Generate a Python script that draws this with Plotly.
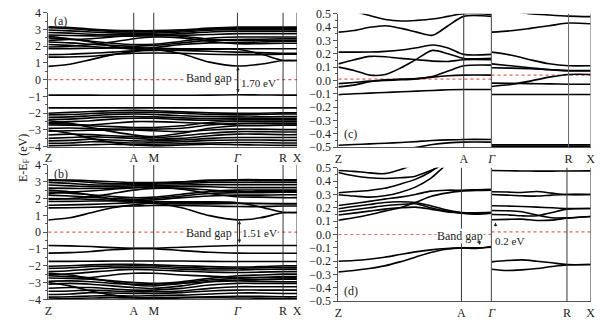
import plotly.graph_objects as go

# ---------------- k-paths ----------------
ab_ticks = [0.0, 0.867, 1.07, 1.92, 2.383, 2.525]
ab_labels = ["Z", "A", "M", "<i>Γ</i>", "R", "X"]
ab_k = [0.0, 0.217, 0.433, 0.65, 0.867, 1.07, 1.353, 1.637, 1.92, 2.15, 2.383, 2.525]

c_left_k = [0.0, 0.125, 0.25, 0.375, 0.5, 0.625, 0.75, 0.875, 1.0, 1.222]
c_right_k = [0.0, 0.25, 0.5, 0.75, 1.0, 1.286]
d_left_k = [0.0, 0.125, 0.25, 0.375, 0.5, 0.625, 0.75, 0.875, 1.0, 1.12, 1.245]
d_right_k = [0.0, 0.2, 0.4, 0.6, 0.8, 1.0, 1.313]

# ---------------- panel (a) bands (eV) ----------------
a_conduction = [
    [0.80, 0.92, 1.20, 1.50, 1.68, 1.80, 1.55, 1.05, 0.82, 0.92, 1.15, 1.15],
    [1.35, 1.36, 1.40, 1.50, 1.58, 1.60, 1.58, 1.52, 1.50, 1.50, 1.52, 1.52],
    [1.50, 1.52, 1.58, 1.65, 1.72, 1.75, 1.78, 1.82, 1.82, 1.55, 1.15, 1.15],
    [1.85, 1.86, 1.88, 1.90, 1.92, 1.88, 1.85, 1.85, 1.85, 1.85, 1.85, 1.85],
    [2.10, 2.05, 1.98, 1.90, 1.85, 1.92, 2.10, 2.20, 2.22, 2.25, 2.30, 2.30],
    [2.25, 2.20, 2.12, 2.05, 2.00, 2.05, 2.20, 2.35, 2.40, 2.42, 2.45, 2.45],
    [2.50, 2.42, 2.30, 2.18, 2.10, 2.12, 2.30, 2.48, 2.55, 2.55, 2.55, 2.55],
    [2.67, 2.64, 2.62, 2.60, 2.60, 2.62, 2.65, 2.70, 2.75, 2.75, 2.75, 2.75],
    [2.82, 2.78, 2.72, 2.68, 2.68, 2.68, 2.75, 2.85, 2.90, 2.90, 2.90, 2.90],
    [2.97, 2.92, 2.85, 2.80, 2.78, 2.78, 2.85, 2.95, 3.00, 3.00, 3.00, 3.00],
    [3.10, 3.05, 2.95, 2.88, 2.86, 2.86, 2.92, 3.02, 3.08, 3.08, 3.08, 3.08],
    [3.16, 3.12, 3.02, 2.95, 2.93, 2.93, 2.98, 3.08, 3.14, 3.14, 3.14, 3.14],
    [2.35, 2.40, 2.45, 2.55, 2.65, 2.70, 2.60, 2.42, 2.35, 2.35, 2.35, 2.35],
    [2.60, 2.45, 2.25, 2.00, 1.82, 1.78, 1.75, 1.70, 1.65, 1.62, 1.58, 1.58],
    [1.95, 2.00, 2.10, 2.25, 2.45, 2.55, 2.50, 2.30, 2.15, 2.15, 2.18, 2.18],
]
a_valence = [
    [-0.92, -0.92, -0.92, -0.93, -0.93, -0.93, -0.93, -0.92, -0.90, -0.91, -0.92, -0.92],
    [-1.68, -1.68, -1.68, -1.68, -1.68, -1.68, -1.68, -1.68, -1.68, -1.68, -1.68, -1.68],
    [-2.00, -1.95, -1.90, -1.85, -1.83, -1.85, -1.92, -1.98, -2.00, -2.00, -1.98, -1.98],
    [-2.10, -2.08, -2.02, -1.97, -1.95, -1.95, -2.00, -2.08, -2.10, -2.08, -2.05, -2.05],
    [-2.25, -2.22, -2.15, -2.08, -2.05, -2.08, -2.15, -2.20, -2.22, -2.22, -2.20, -2.20],
    [-2.38, -2.35, -2.28, -2.22, -2.20, -2.22, -2.28, -2.32, -2.32, -2.32, -2.30, -2.30],
    [-2.55, -2.50, -2.45, -2.35, -2.30, -2.30, -2.38, -2.42, -2.40, -2.40, -2.40, -2.40],
    [-2.70, -2.72, -2.75, -2.80, -2.85, -2.85, -2.75, -2.55, -2.48, -2.50, -2.50, -2.50],
    [-2.90, -2.88, -2.92, -2.95, -2.95, -2.95, -2.90, -2.70, -2.60, -2.60, -2.60, -2.60],
    [-3.08, -3.05, -3.02, -3.00, -3.00, -3.05, -3.10, -3.00, -2.95, -2.95, -2.98, -2.98],
    [-3.30, -3.25, -3.28, -3.35, -3.40, -3.45, -3.35, -3.20, -3.10, -3.10, -3.12, -3.12],
    [-3.50, -3.45, -3.40, -3.45, -3.50, -3.55, -3.50, -3.35, -3.25, -3.25, -3.28, -3.28],
    [-3.65, -3.62, -3.55, -3.60, -3.65, -3.65, -3.60, -3.50, -3.45, -3.45, -3.45, -3.45],
    [-3.80, -3.78, -3.70, -3.72, -3.78, -3.75, -3.70, -3.62, -3.60, -3.60, -3.62, -3.62],
    [-3.95, -3.92, -3.88, -3.85, -3.88, -3.85, -3.82, -3.78, -3.75, -3.75, -3.78, -3.78],
    [-2.45, -2.60, -2.85, -3.10, -3.30, -3.40, -3.20, -2.90, -2.75, -2.75, -2.72, -2.72],
    [-3.00, -3.20, -3.50, -3.75, -3.90, -3.95, -3.90, -3.85, -3.88, -3.90, -3.92, -3.92],
    [-2.62, -2.65, -2.70, -2.60, -2.50, -2.50, -2.55, -2.62, -2.70, -2.72, -2.70, -2.70],
]

# ---------------- panel (b) bands (eV) ----------------
b_conduction = [
    [0.72, 0.85, 1.15, 1.45, 1.62, 1.72, 1.45, 0.98, 0.73, 0.85, 1.15, 1.15],
    [1.44, 1.45, 1.48, 1.52, 1.55, 1.58, 1.58, 1.55, 1.52, 1.52, 1.55, 1.55],
    [1.60, 1.62, 1.65, 1.70, 1.75, 1.78, 1.80, 1.80, 1.75, 1.50, 1.18, 1.18],
    [1.82, 1.83, 1.85, 1.85, 1.85, 1.82, 1.78, 1.75, 1.72, 1.70, 1.70, 1.70],
    [2.00, 1.98, 1.95, 1.90, 1.88, 1.92, 2.05, 2.15, 2.20, 2.20, 2.22, 2.22],
    [2.20, 2.15, 2.08, 2.00, 1.95, 2.00, 2.15, 2.30, 2.35, 2.35, 2.38, 2.38],
    [2.39, 2.32, 2.22, 2.12, 2.05, 2.08, 2.25, 2.42, 2.50, 2.50, 2.50, 2.50],
    [2.62, 2.60, 2.60, 2.62, 2.65, 2.68, 2.70, 2.70, 2.65, 2.65, 2.65, 2.65],
    [2.80, 2.75, 2.72, 2.72, 2.75, 2.78, 2.80, 2.82, 2.82, 2.82, 2.82, 2.82],
    [2.96, 2.90, 2.82, 2.80, 2.82, 2.85, 2.90, 2.95, 2.96, 2.96, 2.96, 2.96],
    [3.08, 3.05, 2.95, 2.88, 2.88, 2.90, 2.98, 3.05, 3.08, 3.06, 3.06, 3.06],
    [2.30, 2.38, 2.45, 2.55, 2.65, 2.70, 2.55, 2.30, 2.10, 2.08, 2.05, 2.05],
    [2.50, 2.40, 2.20, 1.95, 1.78, 1.70, 1.68, 1.68, 1.70, 1.70, 1.68, 1.68],
    [1.95, 2.00, 2.10, 2.30, 2.50, 2.60, 2.60, 2.50, 2.40, 2.40, 2.40, 2.40],
    [3.12, 3.10, 3.05, 3.00, 2.95, 2.95, 3.00, 3.10, 3.12, 3.12, 3.12, 3.12],
]
b_valence = [
    [-0.80, -0.82, -0.86, -0.92, -0.96, -0.96, -0.90, -0.84, -0.80, -0.80, -0.80, -0.80],
    [-1.25, -1.22, -1.15, -1.05, -0.98, -0.98, -1.10, -1.20, -1.25, -1.26, -1.26, -1.26],
    [-1.74, -1.74, -1.73, -1.72, -1.72, -1.72, -1.72, -1.74, -1.75, -1.75, -1.75, -1.75],
    [-2.03, -2.00, -1.95, -1.92, -1.92, -1.95, -2.00, -2.05, -2.08, -2.05, -2.00, -2.00],
    [-2.16, -2.12, -2.05, -2.02, -2.00, -2.02, -2.10, -2.15, -2.15, -2.12, -2.10, -2.10],
    [-2.35, -2.30, -2.20, -2.12, -2.10, -2.12, -2.20, -2.25, -2.25, -2.22, -2.20, -2.20],
    [-2.54, -2.48, -2.38, -2.28, -2.22, -2.25, -2.32, -2.38, -2.40, -2.38, -2.35, -2.35],
    [-2.73, -2.75, -2.80, -2.90, -3.00, -3.05, -2.95, -2.75, -2.60, -2.55, -2.50, -2.50],
    [-2.92, -2.90, -2.95, -3.05, -3.10, -3.10, -3.00, -2.85, -2.75, -2.70, -2.65, -2.65],
    [-3.10, -3.05, -3.10, -3.20, -3.30, -3.35, -3.20, -2.95, -2.85, -2.82, -2.80, -2.80],
    [-3.34, -3.30, -3.30, -3.38, -3.45, -3.45, -3.35, -3.15, -3.05, -3.05, -3.05, -3.05],
    [-3.52, -3.50, -3.45, -3.50, -3.55, -3.55, -3.50, -3.35, -3.25, -3.25, -3.25, -3.25],
    [-3.71, -3.68, -3.60, -3.62, -3.65, -3.65, -3.60, -3.50, -3.45, -3.45, -3.45, -3.45],
    [-3.87, -3.85, -3.80, -3.78, -3.80, -3.78, -3.75, -3.68, -3.62, -3.62, -3.65, -3.65],
    [-3.98, -3.95, -3.92, -3.90, -3.92, -3.90, -3.88, -3.85, -3.82, -3.82, -3.85, -3.85],
    [-2.60, -2.65, -2.70, -2.55, -2.45, -2.45, -2.55, -2.62, -2.70, -2.70, -2.72, -2.72],
    [-3.00, -3.20, -3.50, -3.75, -3.90, -3.95, -3.92, -3.90, -3.92, -3.93, -3.95, -3.95],
    [-2.45, -2.55, -2.75, -2.95, -3.15, -3.20, -3.05, -2.95, -2.90, -2.92, -2.95, -2.95],
]

# ---------------- panel (c) bands near E_F (eV) ----------------
c_left = [
    [0.56, 0.52, 0.486, 0.457, 0.445, 0.45, 0.46, 0.48, 0.50, 0.495],
    [0.362, 0.374, 0.398, 0.41, 0.39, 0.362, 0.338, 0.41, 0.48, 0.48],
    [0.212, 0.212, 0.213, 0.218, 0.228, 0.245, 0.265, 0.243, 0.195, 0.195],
    [0.124, 0.155, 0.18, 0.178, 0.165, 0.155, 0.145, 0.142, 0.155, 0.155],
    [0.10, 0.075, 0.04, 0.045, 0.095, 0.16, 0.225, 0.20, 0.165, 0.165],
    [-0.048, -0.035, -0.01, 0.005, 0.01, 0.015, 0.03, 0.07, 0.11, 0.115],
    [-0.024, -0.015, -0.005, 0.0, 0.005, 0.012, 0.025, 0.035, 0.04, 0.04],
    [-0.107, -0.10, -0.095, -0.09, -0.085, -0.08, -0.075, -0.07, -0.068, -0.068],
    [-0.485, -0.48, -0.475, -0.47, -0.465, -0.458, -0.45, -0.445, -0.442, -0.442],
    [-0.55, -0.54, -0.53, -0.52, -0.515, -0.50, -0.48, -0.468, -0.462, -0.462],
]
c_right = [
    [0.53, 0.52, 0.50, 0.49, 0.482, 0.478],
    [0.362, 0.372, 0.39, 0.41, 0.43, 0.425],
    [0.212, 0.19, 0.155, 0.125, 0.11, 0.11],
    [0.124, 0.11, 0.095, 0.08, 0.072, 0.072],
    [0.095, 0.092, 0.088, 0.082, 0.075, 0.075],
    [-0.045, -0.03, -0.005, 0.025, 0.045, 0.045],
    [-0.02, -0.022, -0.024, -0.026, -0.028, -0.028],
    [-0.105, -0.105, -0.105, -0.105, -0.105, -0.105],
    [-0.482, -0.482, -0.482, -0.482, -0.482, -0.482],
    [-0.492, -0.492, -0.492, -0.492, -0.492, -0.492],
]

# ---------------- panel (d) bands near E_F (eV) ----------------
d_left = [
    [0.48, 0.473, 0.462, 0.456, 0.485, 0.53, 0.58, 0.62, 0.65, 0.66, 0.66],
    [0.465, 0.44, 0.425, 0.42, 0.425, 0.437, 0.48, 0.53, 0.58, 0.60, 0.60],
    [0.313, 0.322, 0.33, 0.346, 0.377, 0.413, 0.47, 0.55, 0.60, 0.62, 0.62],
    [0.298, 0.288, 0.28, 0.29, 0.315, 0.355, 0.42, 0.52, 0.58, 0.60, 0.60],
    [0.217, 0.232, 0.248, 0.265, 0.28, 0.30, 0.325, 0.332, 0.332, 0.335, 0.338],
    [0.193, 0.21, 0.225, 0.24, 0.245, 0.24, 0.215, 0.185, 0.165, 0.163, 0.166],
    [0.17, 0.185, 0.20, 0.215, 0.225, 0.23, 0.20, 0.175, 0.162, 0.155, 0.163],
    [0.146, 0.16, 0.175, 0.19, 0.20, 0.205, 0.19, 0.17, 0.16, 0.152, 0.16],
    [0.107, 0.125, 0.148, 0.175, 0.20, 0.24, 0.285, 0.31, 0.325, 0.33, 0.332],
    [-0.20, -0.195, -0.185, -0.17, -0.15, -0.13, -0.115, -0.105, -0.10, -0.105, -0.09],
    [-0.28, -0.27, -0.255, -0.235, -0.205, -0.17, -0.135, -0.11, -0.10, -0.10, -0.095],
]
d_right = [
    [0.48, 0.478, 0.476, 0.475, 0.475, 0.476, 0.477],
    [0.32, 0.318, 0.315, 0.322, 0.31, 0.30, 0.30],
    [0.30, 0.295, 0.29, 0.288, 0.295, 0.30, 0.30],
    [0.215, 0.213, 0.21, 0.205, 0.20, 0.195, 0.195],
    [0.18, 0.178, 0.17, 0.145, 0.125, 0.125, 0.135],
    [0.15, 0.148, 0.14, 0.14, 0.165, 0.19, 0.195],
    [0.11, 0.113, 0.115, 0.105, 0.108, 0.122, 0.135],
    [-0.205, -0.195, -0.19, -0.20, -0.212, -0.225, -0.225],
    [-0.26, -0.27, -0.265, -0.255, -0.24, -0.228, -0.225],
]

# Fermi-level reference lines and gap values
fermi_levels = {"y": 0.0, "y2": 0.0, "y3": 0.01, "y4": 0.04, "y5": 0.0, "y6": 0.02}
gap_a = [0.80, -0.90]   # CBM, VBM (eV)
gap_b = [0.72, -0.79]

SERIF = "Liberation Serif"
fig = go.Figure()


def add_bands(kx, bands, xa, ya):
    for vals in bands:
        fig.add_trace(go.Scatter(
            x=kx, y=vals, mode="lines", xaxis=xa, yaxis=ya,
            line=dict(color="black", width=1.6, shape="spline", smoothing=0.8),
            hoverinfo="skip", showlegend=False))


add_bands(ab_k, a_conduction + a_valence, "x", "y")
add_bands(ab_k, b_conduction + b_valence, "x2", "y2")
add_bands(c_left_k, c_left, "x3", "y3")
add_bands(c_right_k, c_right, "x4", "y4")
add_bands(d_left_k, d_left, "x5", "y5")
add_bands(d_right_k, d_right, "x6", "y6")

AX = "#555555"
tickfont = dict(family=SERIF, size=12, color="#222222")


def yaxis(domain, rng, dtick, minor, fmt, anchor, labels=True):
    return dict(domain=domain, range=rng, anchor=anchor, showline=True,
                linecolor=AX, linewidth=1, showgrid=False, zeroline=False,
                ticks="outside" if labels else "", ticklen=4, tickwidth=1,
                tickcolor=AX, tick0=0, dtick=dtick, tickformat=fmt,
                showticklabels=labels, tickfont=tickfont,
                minor=dict(dtick=minor, ticks="outside" if labels else "",
                           ticklen=2, tickcolor=AX, showgrid=False))


def xaxis(domain, rng, vals, text, anchor):
    return dict(domain=domain, range=rng, anchor=anchor, showline=True,
                linecolor=AX, linewidth=1, showgrid=False, zeroline=False,
                tickmode="array", tickvals=vals, ticktext=text, ticks="",
                tickfont=tickfont)


W, H = 600, 325
px = lambda a, b: [a / W, b / W]
py = lambda top, bot: [1 - bot / H, 1 - top / H]

fig.update_layout(
    width=W, height=H, margin=dict(l=0, r=0, t=0, b=0),
    paper_bgcolor="white", plot_bgcolor="white", showlegend=False,
    xaxis=xaxis(px(45, 297.5), [0, 2.525], ab_ticks, ab_labels, "y"),
    yaxis=yaxis(py(6, 146), [-4, 4], 1, 0.5, "d", "x"),
    xaxis2=xaxis(px(45, 297.5), [0, 2.525], ab_ticks, ab_labels, "y2"),
    yaxis2=yaxis(py(165, 305.5), [-4, 4], 1, 0.5, "d", "x2"),
    xaxis3=xaxis(px(339.5, 495), [0, 1.222], [0, 1.0], ["Z", "A"], "y3"),
    yaxis3=yaxis(py(7, 146.5), [-0.5, 0.5], 0.1, 0.05, ".1f", "x3"),
    xaxis4=xaxis(px(495, 595.5), [0, 1.286], [0, 1.0, 1.286], ["<i>Γ</i>", "R", "X"], "y4"),
    yaxis4=yaxis(py(7, 146.5), [-0.5, 0.5], 0.1, 0.05, ".1f", "x4", labels=False),
    xaxis5=xaxis(px(339.5, 495), [0, 1.245], [0, 1.0], ["Z", "A"], "y5"),
    yaxis5=yaxis(py(168, 307.5), [-0.5, 0.5], 0.1, 0.05, ".1f", "x5"),
    xaxis6=xaxis(px(495, 595.5), [0, 1.313], [0, 1.0, 1.313], ["<i>Γ</i>", "R", "X"], "y6"),
    yaxis6=yaxis(py(168, 307.5), [-0.5, 0.5], 0.1, 0.05, ".1f", "x6", labels=False),
)

shapes = []


def vline(xref, yref, xv, width=1, color="#333333"):
    shapes.append(dict(type="line", xref=xref, yref=yref + " domain", x0=xv, x1=xv,
                       y0=0, y1=1, line=dict(color=color, width=width)))


for xr, yr in (("x", "y"), ("x2", "y2")):
    for kv in ab_ticks[1:]:
        vline(xr, yr, kv)
vline("x3", "y3", 1.0)
vline("x3", "y3", 1.222, width=1.5, color="#666666")
vline("x4", "y4", 1.0, color="#666666")
vline("x4", "y4", 1.286, color="#666666")
vline("x5", "y5", 1.0)
vline("x5", "y5", 1.245, width=1.5, color="#666666")
vline("x6", "y6", 1.0)
vline("x6", "y6", 1.313)

# Fermi level (dotted red)
for ya, ef in fermi_levels.items():
    xa = "x" + ya[1:]
    shapes.append(dict(type="line", xref=xa + " domain", yref=ya, x0=0, x1=1,
                       y0=ef, y1=ef, layer="below",
                       line=dict(color="#e8615a", width=1.2, dash="dot")))
fig.update_layout(shapes=shapes)

ann = []


def text(xref, yref, x, y, s, size=12, anchor="center", bg=None):
    d = dict(xref=xref, yref=yref, x=x, y=y, text=s, showarrow=False,
             xanchor=anchor, yanchor="middle",
             font=dict(family=SERIF, size=size, color="#222222"))
    if bg:
        d.update(bgcolor=bg, borderpad=0)
    ann.append(d)


def arrow(xref, yref, x, y_head, y_tail, both=False):
    ann.append(dict(xref=xref, yref=yref, axref=xref, ayref=yref, x=x, y=y_head,
                    ax=x, ay=y_tail, text="", showarrow=True, arrowhead=2,
                    arrowsize=0.7, arrowwidth=1, arrowcolor="#222222",
                    arrowside="end+start" if both else "end"))


# panel labels
text("x domain", "y domain", 0.015, 0.94, "(a)", anchor="left")
text("x2 domain", "y2 domain", 0.015, 0.93, "(b)", anchor="left")
text("x3", "y3", 0.03, -0.40, "(c)", anchor="left")
text("x5", "y5", 0.03, -0.42, "(d)", anchor="left")

# band-gap markers
text("x", "y", 1.63, 0.1, "Band gap", bg="white")
arrow("x", "y", 1.925, gap_a[0] - 0.03, gap_a[1] + 0.03, both=True)
text("x", "y", 1.95, -0.17, f"{gap_a[0] - gap_a[1]:.2f} eV", size=11, anchor="left", bg="white")

text("x2", "y2", 1.63, -0.03, "Band gap", bg="white")
arrow("x2", "y2", 1.94, gap_b[0] - 0.05, gap_b[1] + 0.05, both=True)
text("x2", "y2", 1.96, -0.03, f"{gap_b[0] - gap_b[1]:.2f} eV", size=11, anchor="left", bg="white")

text("x5", "y5", 0.99, -0.012, "Band gap", bg="white")
arrow("x5", "y5", 1.147, -0.078, -0.035)
arrow("x6", "y6", 0.052, 0.09, 0.05)
text("x6", "y6", 0.015, -0.045, "0.2 eV", size=11, anchor="left")

# shared energy-axis title
ann.append(dict(xref="paper", yref="paper", x=10 / W, y=1 - 158 / H,
                text="E-E<sub>F</sub> (eV)", showarrow=False, textangle=-90,
                font=dict(family=SERIF, size=12, color="#222222")))
fig.update_layout(annotations=ann)

fig.write_html("out.html")
